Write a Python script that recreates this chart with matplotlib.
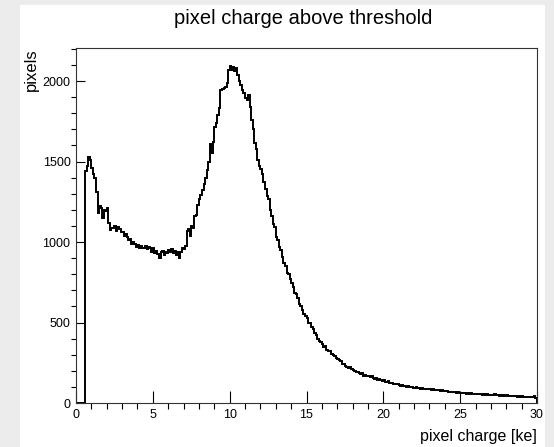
import numpy as np
import matplotlib
matplotlib.use("Agg")
import matplotlib.pyplot as plt
from matplotlib.patches import Rectangle

# ---- data ----
x_min, x_max, n_bins = 0.0, 30.0, 300
counts = [
    0, 0, 0, 0, 0, 0, 1440, 1470, 1530, 1510,
    1460, 1420, 1400, 1310, 1180, 1225, 1210, 1150, 1200, 1190,
    1210, 1120, 1075, 1090, 1085, 1100, 1070, 1095, 1080, 1060,
    1065, 1040, 1050, 1030, 1010, 1020, 990, 1000, 985, 970,
    980, 960, 975, 965, 960, 975, 955, 970, 965, 940,
    960, 930, 945, 925, 900, 935, 945, 920, 940, 930,
    950, 935, 955, 930, 945, 920, 940, 900, 935, 960,
    955, 975, 1070, 1080, 1040, 1100, 1090, 1160, 1170, 1230,
    1265, 1290, 1320, 1360, 1400, 1450, 1500, 1610, 1555, 1620,
    1715, 1740, 1790, 1830, 1945, 1950, 1955, 1965, 1985, 2070,
    2095, 2070, 2090, 2060, 2080, 2040, 2000, 1975, 1945, 1925,
    1895, 1880, 1910, 1840, 1760, 1700, 1615, 1575, 1510, 1470,
    1455, 1420, 1375, 1330, 1285, 1265, 1200, 1160, 1110, 1095,
    1030, 1010, 970, 950, 905, 870, 850, 810, 800, 770,
    745, 720, 685, 675, 650, 615, 605, 580, 555, 540,
    525, 500, 495, 470, 460, 435, 425, 400, 385, 380,
    365, 350, 355, 330, 320, 325, 305, 300, 290, 280,
    275, 265, 260, 245, 240, 230, 225, 220, 225, 210,
    205, 200, 195, 190, 185, 180, 185, 170, 175, 165,
    170, 160, 165, 155, 150, 155, 145, 150, 140, 135,
    140, 130, 128, 135, 122, 125, 118, 120, 115, 120,
    112, 108, 110, 104, 106, 100, 104, 98, 101, 96,
    95, 99, 92, 94, 90, 93, 88, 90, 86, 89,
    85, 82, 86, 80, 82, 78, 80, 75, 78, 73,
    72, 75, 70, 68, 71, 66, 68, 64, 67, 63,
    65, 62, 60, 64, 59, 61, 57, 60, 56, 58,
    55, 57, 53, 56, 52, 54, 50, 58, 51, 49,
    52, 48, 55, 47, 50, 46, 48, 44, 52, 45,
    47, 43, 46, 42, 44, 41, 43, 40, 42, 39,
    41, 38, 40, 37, 39, 36, 38, 35, 42, 30,
]
x_ticks = [0, 5, 10, 15, 20, 25, 30]
y_ticks = [0, 500, 1000, 1500, 2000]
title = "pixel charge above threshold"
x_label = "pixel charge [ke]"
y_label = "pixels"

# ---- figure ----
W, H = 554, 447
plt.rcParams["font.family"] = ["Liberation Sans", "DejaVu Sans"]
fig = plt.figure(figsize=(W / 100, H / 100), dpi=100, facecolor="#ececec")

# white canvas
fig.patches.append(Rectangle((20 / W, 0), (545 - 20) / W, 1 - 5 / H,
                             transform=fig.transFigure, facecolor="white",
                             edgecolor="none", zorder=-5))

ax = fig.add_axes([76 / W, 1 - 403 / H, (537 - 76) / W, (403 - 48) / H])
ax.set_zorder(2)
ax.set_facecolor("white")
edges = np.linspace(x_min, x_max, n_bins + 1)
ax.stairs(counts, edges, color="black", linewidth=1.4)

ax.set_xlim(x_min, x_max)
ax.set_ylim(0, 2205)
ax.set_xticks(x_ticks)
ax.set_yticks(y_ticks)
ax.set_xticks(np.arange(0, 31, 1), minor=True)
ax.set_yticks(np.arange(0, 2201, 100), minor=True)
ax.tick_params(axis="both", direction="in", labelsize=9, colors="black")
ax.tick_params(axis="x", which="major", length=8.5, width=0.8, pad=4)
ax.tick_params(axis="x", which="minor", length=4.2, width=0.8)
ax.tick_params(axis="y", which="major", length=6.5, width=0.8, pad=4)
ax.tick_params(axis="y", which="minor", length=3.3, width=0.8)
for s in ax.spines.values():
    s.set_linewidth(0.8)
    s.set_color("#333333")

fig.text(303 / W, 1 - 19 / H, title, ha="center", va="center", fontsize=14.5)
fig.text(537 / W, 1 - 437 / H, x_label, ha="right", va="center", fontsize=11.5)
fig.text(31 / W, 1 - 48 / H, y_label, ha="center", va="top", rotation=90, fontsize=12)

fig.savefig("out.png", dpi=100, facecolor=fig.get_facecolor())
